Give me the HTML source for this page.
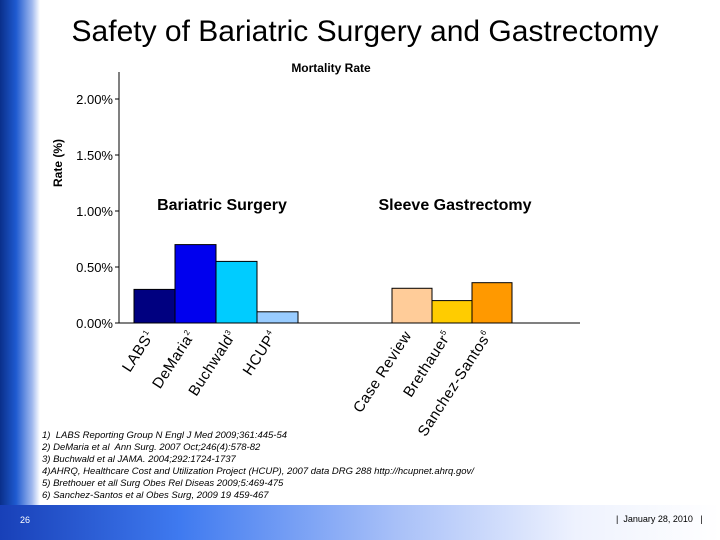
<!DOCTYPE html>
<html><head><meta charset="utf-8">
<style>
body{margin:0;width:720px;height:540px;overflow:hidden;background:#fff;font-family:"Liberation Sans",sans-serif;position:relative}
#side{position:absolute;left:0;top:0;width:40px;height:540px;background:linear-gradient(to right,#0a2f8a,#1e5ad0 40%,#9fb8ee 80%,#fff)}
#foot{position:absolute;left:0;top:505px;width:720px;height:35px;background:linear-gradient(to right,#1840b8,#3f7af0 25%,#a8c0f8 55%,#eef2fe 80%,#fff)}
#title{position:absolute;left:0;width:730px;top:15px;text-align:center;font-size:30px;color:#000}
.refs{position:absolute;left:42px;top:430px;font-size:9.5px;font-style:italic;line-height:12px;color:#000}
</style></head><body>
<div id="side"></div>
<div id="foot"></div>
<div id="title">Safety of Bariatric Surgery and Gastrectomy</div>
<svg id="chart" width="720" height="540" style="position:absolute;left:0;top:0"></svg>
<div class="refs">
1)&nbsp; LABS Reporting Group N Engl J Med 2009;361:445-54<br>
2) DeMaria et al&nbsp; Ann Surg. 2007 Oct;246(4):578-82<br>
3) Buchwald et al JAMA. 2004;292:1724-1737<br>
4)AHRQ, Healthcare Cost and Utilization Project (HCUP), 2007 data DRG 288 http://hcupnet.ahrq.gov/<br>
5) Brethouer et all Surg Obes Rel Diseas 2009;5:469-475<br>
6) Sanchez-Santos et al Obes Surg, 2009 19 459-467
</div>
<div style="position:absolute;left:20px;top:515px;font-size:9px;color:#fff">26</div>
<div style="position:absolute;left:616px;top:514px;font-size:9px;color:#000">|&nbsp; January 28, 2010 &nbsp;&nbsp;|</div>
<script>
const categories=["LABS","DeMaria","Buchwald","HCUP","Case Review","Brethauer","Sanchez-Santos"];
const superscripts=["1","2","3","4","","5","6"];
const groups=[0,0,0,0,1,1,1];
const values=[0.30,0.70,0.55,0.10,0.31,0.20,0.36];
const colors=["#000080","#0000ee","#00ccff","#99ccff","#ffcc99","#ffcc00","#ff9900"];
const ticks=[0,0.5,1.0,1.5,2.0];
const tickLabels=["0.00%","0.50%","1.00%","1.50%","2.00%"];
const svg=document.getElementById('chart');
const NS="http://www.w3.org/2000/svg";
const y0=323,pxPer=112,axX=119;
function y(v){return y0-v*pxPer;}
function bandX(i){const g=groups[i];const first=groups.indexOf(g);return g===0?134+(i-first)*41:392+(i-first)*40;}
function bw(i){return groups[i]===0?41:40;}
function mk(t,a){const e=document.createElementNS(NS,t);for(const k in a)e.setAttribute(k,a[k]);svg.appendChild(e);return e;}
let e=mk('line',{x1:axX,y1:72,x2:axX,y2:y0,stroke:'#000'});


e=mk('line',{x1:axX,y1:y0,x2:580,y2:y0,stroke:'#000'});


ticks.forEach((t,i)=>{
 let l=mk('line',{x1:axX-4,y1:y(t),x2:axX,y2:y(t),stroke:'#000'});
 
 
 let tx=mk('text',{x:113,y:y(t)+5,'text-anchor':'end','font-size':13,'font-family':'Liberation Sans'});
 tx.textContent=tickLabels[i];
 
 
});
values.forEach((v,i)=>{
 let r=mk('rect',{x:bandX(i),y:y(v),width:bw(i),height:y0-y(v),fill:colors[i],stroke:'#000','stroke-width':1});
 
 
 const cx=bandX(i)+bw(i)/2, cy=y0+12;
 let tx=mk('text',{x:cx,y:cy,'text-anchor':'end','font-size':15,'letter-spacing':'0.5','font-family':'Liberation Sans',transform:`rotate(-57 ${cx} ${cy})`});
 tx.textContent=categories[i];
 if(superscripts[i]){const s=document.createElementNS(NS,'tspan');s.setAttribute('font-size',8);s.setAttribute('dy',-6);s.textContent=superscripts[i];tx.appendChild(s);}
 
 
});
e=mk('text',{x:331,y:72,'text-anchor':'middle','font-size':12,'font-weight':'bold','font-family':'Liberation Sans'});
e.textContent='Mortality Rate';


e=mk('text',{x:62,y:163,'text-anchor':'middle','font-size':12,'font-weight':'bold','font-family':'Liberation Sans',transform:'rotate(-90 62 163)'});
e.textContent='Rate (%)';


e=mk('text',{x:222,y:210,'text-anchor':'middle','font-size':16,'font-weight':'bold','font-family':'Liberation Sans'});
e.textContent='Bariatric Surgery';


e=mk('text',{x:455,y:210,'text-anchor':'middle','font-size':16,'font-weight':'bold','font-family':'Liberation Sans'});
e.textContent='Sleeve Gastrectomy';


</script>
</body></html>
